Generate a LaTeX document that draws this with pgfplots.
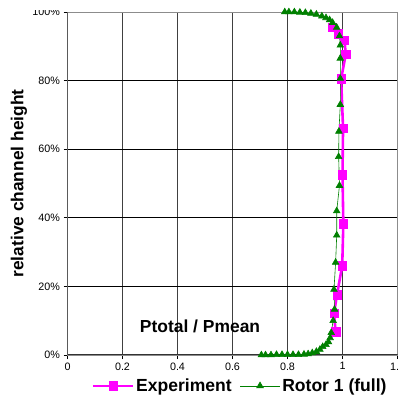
\documentclass[border=0pt]{standalone}
\usepackage{pgfplots}
\pgfplotsset{compat=1.18}
\usepackage{fontspec}
\setmainfont{Liberation Sans}
\definecolor{expmag}{RGB}{255,0,255}
\definecolor{rotgreen}{RGB}{0,128,0}
\begin{document}
\begin{tikzpicture}
\begin{axis}[
  at={(0,0)}, anchor=south west,
  scale only axis, width=330bp, height=343bp,
  xmin=0, xmax=1.2, ymin=0, ymax=100,
  xtick={0,0.2,0.4,0.6,0.8,1,1.2},
  xticklabels={0,0.2,0.4,0.6,0.8,1,1.2},
  ytick={0,20,40,60,80,100},
  yticklabels={0\%,20\%,40\%,60\%,80\%,100\%},
  tick align=outside, xtick pos=bottom, ytick pos=left,
  major tick length=4bp,
  tick style={black, line width=0.8pt},
  grid=major,
  x grid style={black!75, line width=0.6pt},
  y grid style={black, line width=0.6pt},
  axis line style={black!45, line width=0.8pt},
  ticklabel style={font=\fontsize{10.8}{12}\selectfont},
  /pgf/number format/assume math mode=true,
  ylabel={\textbf{relative channel height}},
  ylabel style={font=\fontsize{17.4}{19}\selectfont, at={(-0.147,0.5)}, anchor=center},
  legend columns=2,
  legend style={draw=none, fill=none, at={(0.523,-0.09)}, anchor=center,
    font=\fontsize{17.6}{19}\selectfont\bfseries,
    /tikz/every even column/.append style={column sep=6bp}},
  legend image code/.code={\draw[mark repeat=2,mark phase=2,#1] plot coordinates {(0bp,0bp) (20bp,0bp) (40bp,0bp)};},
]
\addplot[expmag, line width=2.6pt, mark=square*, mark size=4.2bp, mark options={solid, fill=expmag, line width=0.5pt}] coordinates {
(0.975,6.8) (0.969,12.1) (0.980,17.6) (0.999,26.0) (1.003,38.3) (1.000,52.5) (1.002,66.1) (0.995,80.5) (1.012,87.7) (1.007,91.8) (0.985,93.6) (0.962,95.5)
};
\addlegendentry{Experiment}
\addplot[rotgreen, line width=0.6pt, mark=triangle*, mark size=3.8bp, mark options={solid, fill=rotgreen}] coordinates {
(0.705,0) (0.72,0) (0.74,0) (0.76,0.1) (0.78,0.1) (0.80,0.1) (0.82,0.1) (0.84,0.1) (0.86,0.2) (0.875,0.3) (0.89,0.6) (0.905,1.0) (0.918,1.6) (0.928,2.4) (0.94,3.0) (0.949,3.8) (0.955,5.0) (0.959,6.5) (0.966,10.0) (0.971,13.3) (0.969,19.1) (0.975,27.0) (0.979,34.9) (0.979,42.0) (0.989,49.4) (0.986,57.8) (0.987,65.2) (0.992,73.0) (0.992,80.6) (0.992,86.5) (0.992,90.3) (0.989,93.0) (0.979,95.5) (0.964,96.9) (0.953,97.7) (0.94,98.3) (0.925,98.8) (0.905,99.3) (0.885,99.6) (0.865,99.8) (0.845,99.9) (0.825,100) (0.805,100) (0.79,100)
};
\addlegendentry{Rotor 1 (full)}
\node[font=\fontsize{17.5}{19}\selectfont\bfseries] at (axis cs:0.482,8.4) {Ptotal / Pmean};
\draw[black, line width=1.3pt] (rel axis cs:0,0) -- (rel axis cs:0,1);
\draw[black!80, line width=1.3pt] (rel axis cs:0,0) -- (rel axis cs:1,0);
\end{axis}
\fill[white] (-67.5bp,345bp) rectangle (-6bp,356bp);
\pgfresetboundingbox
\useasboundingbox (-67.5bp,-46bp) rectangle (330.5bp,355bp);
\end{tikzpicture}
\end{document}
